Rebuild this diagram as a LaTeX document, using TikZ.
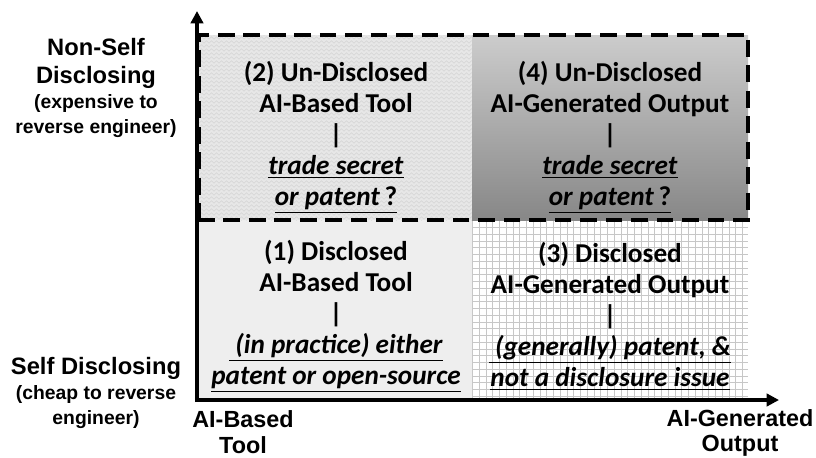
\documentclass[tikz,border=0pt]{standalone}
\usepackage{fontspec}
\setmainfont{Carlito}
\newfontfamily\axisfont{Liberation Sans}
\usetikzlibrary{arrows.meta,positioning,decorations.pathmorphing}
\definecolor{qlight}{gray}{0.935}
\definecolor{qwave}{gray}{0.905}
\definecolor{qwaveline}{gray}{0.83}
\definecolor{qgrid}{gray}{0.78}
\definecolor{qtop}{gray}{0.80}
\definecolor{qbottom}{gray}{0.53}

\begin{document}
\begin{tikzpicture}
  \useasboundingbox (0,0) rectangle (16.32,9.14);

  %--- Quadrant fills ---
  % (1) disclosed tool
  \fill[qlight] (3.98,1.14) rectangle (9.44,4.74);
  % (2) undisclosed tool, wavy texture
  \fill[qwave] (3.98,4.74) rectangle (9.44,8.44);
  \begin{scope}
    \clip (3.98,4.74) rectangle (9.44,8.44);
    \foreach \y in {4.70,4.78,...,8.50}
      \draw[qwaveline, line width=0.3pt, decorate, decoration={snake, amplitude=0.025cm, segment length=0.1cm}] (3.9,\y) -- (9.5,\y);
  \end{scope}
  % (3) disclosed output, grid
  \fill[white] (9.44,1.14) rectangle (14.96,4.74);
  \draw[qgrid, line width=0.4pt, step=0.135cm] (9.44,1.14) grid (14.96,4.74);
  % (4) undisclosed output, gradient
  \shade[top color=qtop, bottom color=qbottom] (9.44,4.74) rectangle (14.96,8.44);

  %--- Dashed frame round the non-self disclosing row ---
  \draw[line width=2.8pt, dash pattern=on 9.5pt off 5pt] (3.98,4.74) rectangle (14.96,8.44);

  %--- Axes ---
  \coordinate (origin) at (3.94,1.14);
  \coordinate (ytip) at (3.94,8.92);
  \coordinate (xtip) at (15.58,1.14);
  \draw[line width=2.5pt, -{Triangle[width=7pt,length=7pt]}] ([yshift=-1.25pt]origin) -- (ytip);
  \draw[line width=2.5pt, -{Triangle[width=7pt,length=7pt]}] ([xshift=-1.25pt]origin) -- (xtip);

  %--- Quadrant texts ---
  \node[font=\fontsize{15.5}{17.7}\selectfont\bfseries, align=center] (q2) at (6.72,6.40) {(2) Un-Disclosed\\AI-Based Tool\\|\\\underline{\textit{trade secret}}\\\underline{\textit{or patent}\,?}};
  \node[font=\fontsize{15.5}{17.7}\selectfont\bfseries, align=center] (q4) at (12.20,6.40) {(4) Un-Disclosed\\AI-Generated Output\\|\\\underline{\textit{trade secret}}\\\underline{\textit{or patent}\,?}};
  \node[font=\fontsize{15.5}{17.7}\selectfont\bfseries, align=center] (q1) at (6.72,2.82) {(1) Disclosed\\AI-Based Tool\\|\\\underline{\textit{\ (in practice) either}}\\\underline{\textit{patent or open-source}}};
  \node[font=\fontsize{15.5}{17.7}\selectfont\bfseries, align=center] (q3) at (12.20,2.82) {(3) Disclosed\\AI-Generated Output\\|\\\underline{\textit{\ (generally) patent, \&}}\\\underline{\textit{not a disclosure issue}}};

  %--- Axis labels ---
  \node[font=\axisfont\fontsize{13.5}{16}\selectfont\bfseries, align=center] (nsd) at (1.92,7.88) {Non-Self\\Disclosing};
  \node[font=\axisfont\fontsize{11}{14}\selectfont\bfseries, align=center, below=-0.12cm of nsd] (nsdnote) {(expensive to\\reverse engineer)};
  \node[font=\axisfont\fontsize{13.5}{16}\selectfont\bfseries, align=center] (sd) at (1.92,1.78) {Self Disclosing};
  \node[font=\axisfont\fontsize{11}{14}\selectfont\bfseries, align=center, below=-0.12cm of sd] (sdnote) {(cheap to reverse\\engineer)};
  \node[font=\axisfont\fontsize{13.3}{14.5}\selectfont\bfseries, align=center] (tool) at (4.86,0.50) {AI-Based\\Tool};
  \node[font=\axisfont\fontsize{13.3}{14.5}\selectfont\bfseries, align=center] (output) at (14.80,0.48) {AI-Generated\\Output};
\end{tikzpicture}
\end{document}
